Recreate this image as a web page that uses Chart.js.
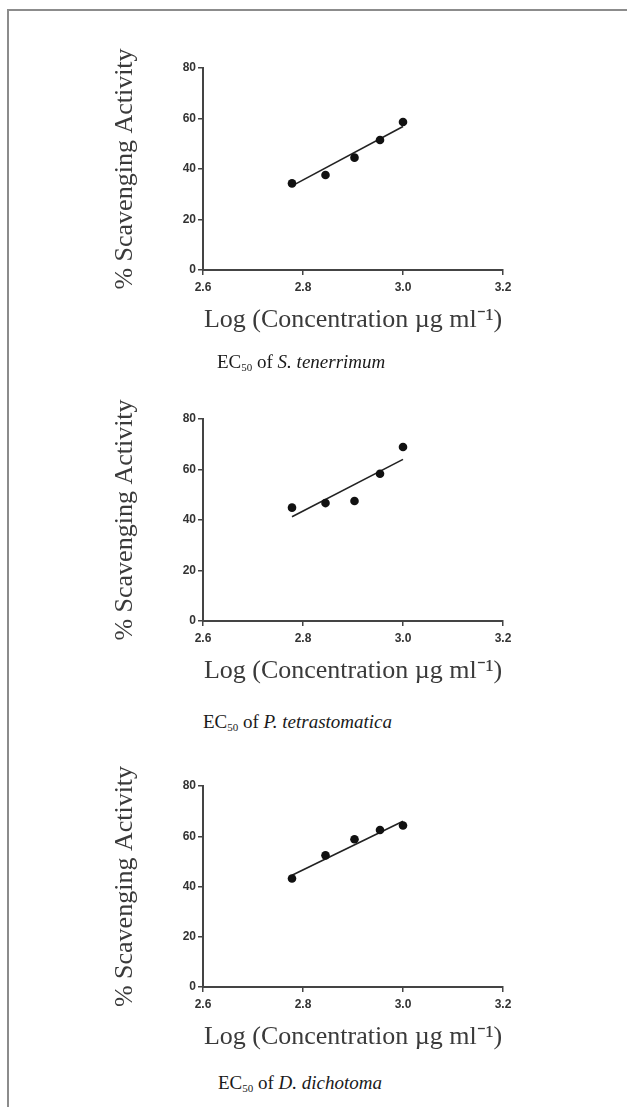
<!DOCTYPE html>
<html><head><meta charset="utf-8">
<script src="https://cdn.jsdelivr.net/npm/chart.js@4"></script>
<style>
html,body{margin:0;padding:0;background:#fff;width:627px;height:1107px;overflow:hidden;position:relative;}
#frame{position:absolute;left:7px;top:9px;width:640px;height:1120px;border-top:2px solid #8c8c8c;border-left:2px solid #8c8c8c;}
canvas{position:absolute;left:0;}
.cap{position:absolute;font-family:'Liberation Serif','Times New Roman',serif;font-size:19px;color:#1a1a1a;white-space:nowrap;line-height:20px;}
.cap sub{font-size:11px;vertical-align:-3px;line-height:0;}
</style></head><body>
<div id="frame"></div>
<canvas id="c1"></canvas>
<canvas id="c2"></canvas>
<canvas id="c3"></canvas>
<div class="cap" style="left:217px;top:352px;">EC<sub>50</sub> of <i>S. tenerrimum</i></div>
<div class="cap" style="left:203px;top:712px;">EC<sub>50</sub> of <i>P. tetrastomatica</i></div>
<div class="cap" style="left:218px;top:1073px;">EC<sub>50</sub> of <i>D. dichotoma</i></div>
<script>
// ---- data ----
const xValues = [2.778, 2.845, 2.903, 2.954, 3.0];
const seriesS = [34.3, 37.6, 44.5, 51.5, 58.6];   // S. tenerrimum
const seriesP = [44.9, 46.7, 47.5, 58.3, 68.9];   // P. tetrastomatica
const seriesD = [43.2, 52.4, 58.8, 62.5, 64.3];   // D. dichotoma
const fitX = [2.778, 3.0];
const fitS = [33.3, 56.8];
const fitP = [41.3, 64.0];
const fitD = [44.5, 66.0];
const xTicks = [2.6, 2.8, 3.0, 3.2];
const yTicks = [0, 20, 40, 60, 80];
const yTitle = '% Scavenging Activity';
const xTitle = 'Log (Concentration µg ml⁻¹)';

// ---- layout ----
const panels = [
  {id:'c1', ys:seriesS, fit:fitS, chartTop:68, chartBottom:270},
  {id:'c2', ys:seriesP, fit:fitP, chartTop:419, chartBottom:621},
  {id:'c3', ys:seriesD, fit:fitD, chartTop:786, chartBottom:987}
];
const PAD_TOP = 48, X_H = 66, PAD_BOT = 6, PAD_L = 110, Y_W = 93, W = 627, CHART_R = 503;
const axisColor = '#444';
const tickFont = {family:"'Liberation Sans', Arial, sans-serif", size:12, weight:'bold'};
const titleFont = {family:"'Liberation Serif', 'Times New Roman', serif", size:26};

panels.forEach(p => {
  const cv = document.getElementById(p.id);
  const h = p.chartBottom - p.chartTop + PAD_TOP + X_H + PAD_BOT;
  cv.width = W; cv.height = h;
  cv.style.width = W + 'px'; cv.style.height = h + 'px';
  cv.style.top = (p.chartTop - PAD_TOP) + 'px';
  new Chart(cv, {
    type: 'scatter',
    data: {
      datasets: [
        {data: xValues.map((x,i)=>({x:x, y:p.ys[i]})), backgroundColor:'#111', borderWidth:0, pointRadius:4.3, order:1},
        {data: fitX.map((x,i)=>({x:x, y:p.fit[i]})), showLine:true, borderColor:'#222', borderWidth:1.6, pointRadius:0, order:2}
      ]
    },
    options: {
      responsive:false, animation:false, events:[],
      layout:{padding:{left:PAD_L, right:W-CHART_R, top:PAD_TOP, bottom:PAD_BOT}},
      plugins:{legend:{display:false}, tooltip:{enabled:false}},
      scales: {
        x: {
          type:'linear', position:'bottom', min:2.6, max:3.2,
          afterBuildTicks: s => { s.ticks = xTicks.map(v=>({value:v})); },
          afterFit: s => { s.height = X_H; },
          ticks:{font:tickFont, color:'#333', padding:5, maxRotation:0, autoSkip:false, callback: v => Number(v).toFixed(1)},
          grid:{drawOnChartArea:false, drawTicks:true, tickLength:5, color:axisColor, lineWidth:1.5},
          border:{display:true, color:axisColor, width:2},
          title:{display:true, text:xTitle, font:titleFont, color:'#3a3a3a', padding:0}
        },
        y: {
          type:'linear', min:0, max:80,
          afterBuildTicks: s => { s.ticks = yTicks.map(v=>({value:v})); },
          afterFit: s => { s.width = Y_W; },
          ticks:{font:tickFont, color:'#333', padding:2, autoSkip:false},
          grid:{drawOnChartArea:false, drawTicks:true, tickLength:5, color:axisColor, lineWidth:1.5},
          border:{display:true, color:axisColor, width:2},
          title:{display:true, text:yTitle, font:titleFont, color:'#3a3a3a', padding:0}
        }
      }
    }
  });
});
</script>
</body></html>
